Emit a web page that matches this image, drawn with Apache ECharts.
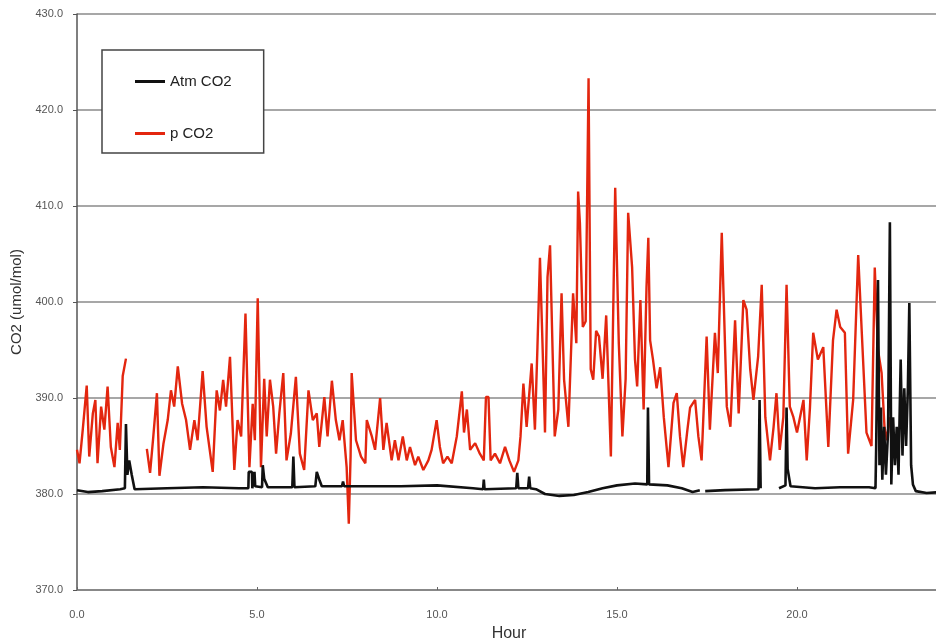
<!DOCTYPE html>
<html>
<head>
<meta charset="utf-8">
<script src="https://cdn.jsdelivr.net/npm/echarts@6/dist/echarts.min.js"></script>
<style>
  html, body { margin: 0; padding: 0; background: #fff; }
  #main { width: 936px; height: 640px; }
</style>
</head>
<body>
<div id="main"></div>
<script>
// p CO2 (red), '-' marks a gap in the record
const pco2Hours = [
  0.00, 0.07, 0.16, 0.27, 0.34, 0.44, 0.51, 0.57, 0.67, 0.76, 0.85, 0.94, 1.04, 1.13, 1.19, 1.27, 1.36, 1.45,
  1.94, 2.03, 2.12, 2.22, 2.29, 2.40, 2.52, 2.61, 2.70, 2.80, 2.92, 3.03, 3.14, 3.26, 3.35, 3.49, 3.60, 3.77,
  3.88, 3.97, 4.06, 4.14, 4.25, 4.37, 4.46, 4.56, 4.68, 4.79, 4.88, 4.94, 5.02, 5.11, 5.20, 5.27, 5.36, 5.45,
  5.53, 5.62, 5.73, 5.82, 5.94, 6.08, 6.19, 6.31, 6.43, 6.55, 6.66, 6.73, 6.87, 6.96, 7.08, 7.19, 7.29, 7.38,
  7.49, 7.55, 7.60, 7.63, 7.75, 7.89, 8.01, 8.05, 8.19, 8.28, 8.42, 8.51, 8.60, 8.74, 8.83, 8.93, 9.05, 9.16,
  9.25, 9.39, 9.48, 9.62, 9.76, 9.85, 9.99, 10.08, 10.17, 10.29, 10.41, 10.55, 10.69, 10.75, 10.83, 10.92,
  11.06, 11.19, 11.30, 11.36, 11.43, 11.49, 11.61, 11.75, 11.89, 12.01, 12.14, 12.26, 12.32, 12.40, 12.49,
  12.63, 12.72, 12.79, 12.86, 12.93, 13.00, 13.07, 13.14, 13.21, 13.27, 13.37, 13.46, 13.53, 13.65, 13.78,
  13.87, 13.92, 13.97, 14.05, 14.13, 14.21, 14.27, 14.34, 14.42, 14.50, 14.60, 14.70, 14.83, 14.95, 15.05,
  15.15, 15.24, 15.31, 15.42, 15.50, 15.56, 15.65, 15.74, 15.82, 15.87, 15.92, 16.00, 16.10, 16.20, 16.30,
  16.43, 16.57, 16.66, 16.75, 16.84, 16.95, 17.03, 17.17, 17.26, 17.35, 17.49, 17.58, 17.72, 17.80, 17.91,
  18.05, 18.15, 18.28, 18.38, 18.51, 18.60, 18.70, 18.79, 18.92, 19.02, 19.12, 19.25, 19.35, 19.43, 19.52,
  19.62, 19.71, 19.80, 19.90, 20.00, 20.18, 20.27, 20.36, 20.45, 20.58, 20.73, 20.87, 21.00, 21.10, 21.20,
  21.33, 21.42, 21.56, 21.70, 21.80, 21.93, 22.07, 22.16, 22.25, 22.35, 22.43, 22.50, 22.58
];
const pco2Values = [
  384.6, 383.2, 386.7, 391.3, 383.9, 388.4, 389.8, 383.2, 389.1, 386.7, 391.2, 384.9, 382.8, 387.4, 384.6, 392.3, 394.1, '-',
  384.7, 382.2, 386.0, 390.5, 381.9, 385.2, 387.7, 390.8, 389.1, 393.3, 389.4, 387.7, 384.6, 387.7, 385.6, 392.8, 387.0, 382.3,
  390.8, 388.7, 391.9, 389.1, 394.3, 382.5, 387.7, 386.0, 398.8, 382.8, 389.4, 385.6, 400.4, 382.8, 392.0, 386.0, 391.9, 389.1,
  384.2, 388.4, 392.6, 383.5, 386.3, 392.2, 384.2, 382.5, 390.8, 387.7, 388.4, 384.9, 390.1, 386.0, 391.8, 387.7, 385.6, 387.7,
  382.8, 376.9, 384.0, 392.6, 385.6, 383.9, 383.2, 387.7, 386.0, 384.6, 390.0, 384.6, 387.4, 383.5, 385.6, 383.5, 386.0, 383.5,
  384.9, 383.0, 383.9, 382.5, 383.5, 384.6, 387.7, 384.9, 383.2, 383.9, 383.2, 386.0, 390.7, 386.4, 388.8, 384.6,
  385.3, 384.2, 383.5, 390.1, 390.1, 383.5, 384.2, 383.2, 384.9, 383.5, 382.3, 383.5, 386.0, 391.5, 387.0,
  393.6, 386.7, 395.3, 404.6, 395.7, 386.4, 402.6, 405.9, 395.0, 386.0, 388.8, 400.9, 391.9, 387.0, 400.9,
  395.7, 411.5, 408.2, 397.4, 398.0, 423.3, 393.0, 391.9, 397.0, 396.4, 392.0, 398.6, 383.9, 411.9, 395.7,
  386.0, 392.0, 409.3, 403.6, 394.0, 391.2, 400.2, 388.8, 401.6, 406.7, 396.0, 394.0, 391.0, 393.2, 388.0,
  382.8, 389.5, 390.5, 386.0, 382.8, 386.5, 389.0, 389.8, 386.0, 383.5, 396.4, 386.7, 396.8, 392.6, 407.2,
  389.1, 387.0, 398.1, 388.4, 400.2, 399.2, 393.0, 389.8, 394.3, 401.8, 388.0, 383.5, 387.0, 390.5, 384.6,
  388.0, 401.8, 389.1, 388.0, 386.4, 389.8, 383.5, 389.0, 396.8, 394.0, 395.3, 384.9, 396.0, 399.2, 397.4,
  396.8, 384.2, 389.8, 404.9, 396.8, 386.4, 385.0, 403.6, 395.0, 392.6, 387.0, 385.6, 388.0
];

// Atm CO2 (black)
const atmHours = [
  0.00, 0.30, 0.70, 1.20, 1.33, 1.36, 1.40, 1.45, 1.52, 1.60, 2.50, 3.50, 4.50, 4.76, 4.77, 4.86, 4.87, 4.92,
  4.93, 4.95, 5.14, 5.16, 5.20, 5.30, 5.98, 6.01, 6.04, 6.62, 6.66, 6.74, 6.80, 7.36, 7.39, 7.42, 9.00, 10.00,
  11.00, 11.28, 11.30, 11.32, 12.20, 12.23, 12.26, 12.53, 12.56, 12.59, 12.75, 13.00, 13.40, 13.80, 14.20,
  14.60, 15.00, 15.50, 15.84, 15.86, 15.89, 16.40, 16.80, 17.10, 17.30, 17.35, 17.45, 18.00, 18.93, 18.96,
  18.99, 19.02, 19.50, 19.68, 19.71, 19.74, 19.82, 20.50, 21.20, 22.00, 22.18, 22.20, 22.25, 22.29, 22.33,
  22.37, 22.42, 22.47, 22.53, 22.58, 22.62, 22.67, 22.72, 22.77, 22.82, 22.88, 22.93, 22.98, 23.03, 23.08,
  23.12, 23.17, 23.22, 23.30, 23.60, 24.00
];
const atmValues = [
  380.4, 380.2, 380.3, 380.5, 380.6, 387.3, 382.0, 383.5, 382.0, 380.5, 380.6, 380.7, 380.6, 380.6, 382.3, 382.3, 380.6, 380.6,
  382.3, 380.8, 380.7, 383.0, 381.6, 380.7, 380.7, 383.9, 380.7, 380.8, 382.3, 381.4, 380.8, 380.8, 381.3, 380.8, 380.8, 380.9,
  380.6, 380.5, 381.5, 380.5, 380.6, 382.2, 380.6, 380.6, 381.8, 380.6, 380.5, 380.0, 379.8, 379.9, 380.2,
  380.6, 380.9, 381.1, 381.0, 389.0, 381.0, 380.9, 380.6, 380.2, 380.4, '-', 380.3, 380.4, 380.5, 389.8,
  380.6, '-', 380.6, 380.9, 389.0, 382.6, 380.8, 380.6, 380.7, 380.7, 380.6, 385.0, 402.3, 383.0, 389.0,
  381.5, 387.0, 382.0, 386.5, 408.3, 381.0, 388.0, 383.0, 387.0, 382.0, 394.0, 384.0, 391.0, 385.0, 391.0,
  399.9, 383.0, 381.0, 380.3, 380.1, 380.2
];

const seriesNames = ['Atm CO2', 'p CO2'];
const xTicks = { min: 0, max: 24, interval: 5 };
const yTicks = { min: 370, max: 430, interval: 10 };

const fontFamily = '"Liberation Sans", Arial, sans-serif';

function pairs(hours, values) {
  return hours.map((h, i) => [h, values[i]]);
}

var myChart = echarts.init(document.getElementById('main'), null, { renderer: 'canvas' });

const option = {
  animation: false,
  backgroundColor: '#fff',
  grid: { left: 77, top: 14, right: -5, bottom: 50, outerBoundsMode: 'none' },
  legend: {
    data: [
      { name: seriesNames[0], icon: 'rect', itemStyle: { color: '#111' } },
      { name: seriesNames[1], icon: 'rect', itemStyle: { color: '#e3260f' } }
    ],
    orient: 'vertical',
    left: 102,
    top: 50,
    padding: [24, 32, 12, 33],
    itemGap: 37,
    itemWidth: 30,
    itemHeight: 3,
    itemTextGap: 2,
    backgroundColor: '#fff',
    borderColor: '#444',
    borderWidth: 1.5,
    textStyle: { color: '#222', fontSize: 15, fontFamily: fontFamily }
  },
  xAxis: {
    type: 'value',
    min: xTicks.min,
    max: xTicks.max,
    interval: xTicks.interval,
    name: 'Hour',
    nameLocation: 'middle',
    nameGap: 36,
    nameTextStyle: { color: '#333', fontSize: 16, fontFamily: fontFamily },
    axisLine: { lineStyle: { color: '#888', width: 2 } },
    axisTick: { inside: true, length: 3, lineStyle: { color: '#666' } },
    axisLabel: {
      color: '#555', fontSize: 11, fontFamily: fontFamily, margin: 19,
      showMaxLabel: false,
      formatter: v => v.toFixed(1)
    },
    splitLine: { show: false }
  },
  yAxis: {
    type: 'value',
    min: yTicks.min,
    max: yTicks.max,
    interval: yTicks.interval,
    name: 'CO2 (umol/mol)',
    nameLocation: 'middle',
    nameGap: 46,
    nameTextStyle: { color: '#333', fontSize: 15, fontFamily: fontFamily },
    axisLine: { show: true, lineStyle: { color: '#555', width: 1.5 } },
    axisTick: { show: true, length: 4, lineStyle: { color: '#555' } },
    axisLabel: {
      color: '#555', fontSize: 11, fontFamily: fontFamily, margin: 14,
      formatter: v => v.toFixed(1)
    },
    splitLine: { show: true, lineStyle: { color: '#8a8a8a', width: 1.5 } }
  },
  series: [
    {
      name: seriesNames[1],
      type: 'line',
      data: pairs(pco2Hours, pco2Values),
      showSymbol: false,
      symbol: 'none',
      connectNulls: false,
      lineStyle: { color: '#e3260f', width: 2.4 },
      itemStyle: { color: '#e3260f' },
      z: 2
    },
    {
      name: seriesNames[0],
      type: 'line',
      data: pairs(atmHours, atmValues),
      showSymbol: false,
      symbol: 'none',
      connectNulls: false,
      lineStyle: { color: '#111', width: 2.6 },
      itemStyle: { color: '#111' },
      z: 3
    }
  ]
};

myChart.setOption(option);
window.onresize = function() {
  myChart.resize();
};
</script>
</body>
</html>
